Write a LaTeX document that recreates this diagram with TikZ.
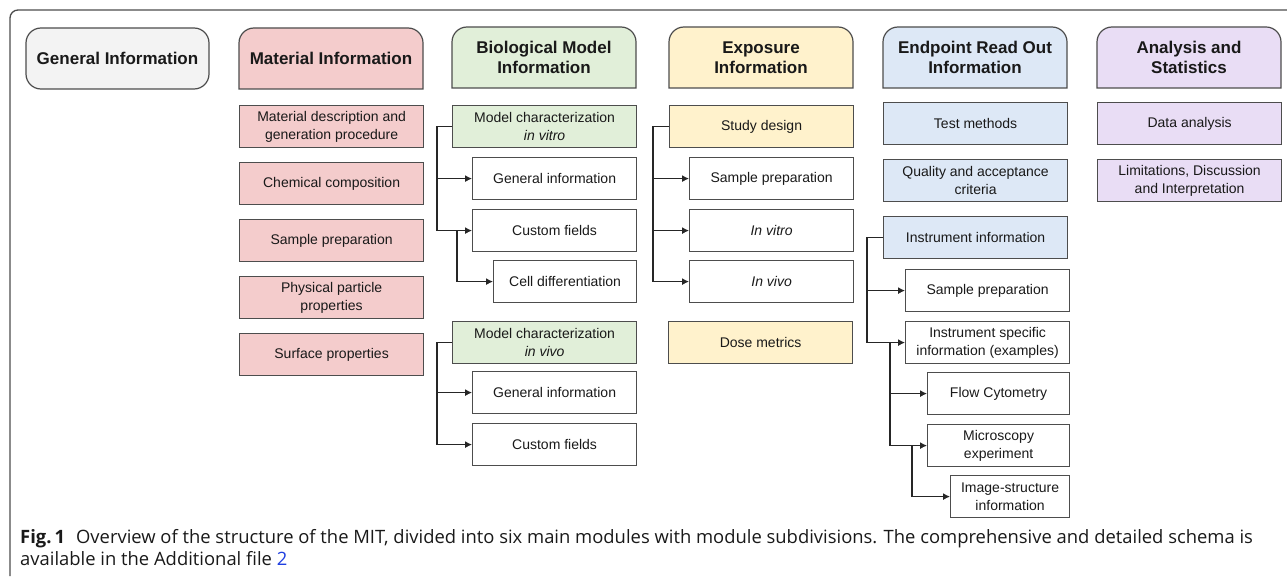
\documentclass[tikz,border=0pt]{standalone}
\usepackage{fontspec}
\setmainfont{Liberation Sans}
\newfontfamily\capfont{Open Sans}
\usepackage{xcolor}
\usetikzlibrary{arrows.meta, positioning, calc}

\definecolor{edge}{HTML}{4D4D4D}
\definecolor{genfill}{HTML}{F3F3F3}
\definecolor{matfill}{HTML}{F4CCCC}
\definecolor{biofill}{HTML}{E1EFD9}
\definecolor{expfill}{HTML}{FFF2CC}
\definecolor{endfill}{HTML}{DDE8F6}
\definecolor{anafill}{HTML}{E9DDF5}
\definecolor{linkblue}{HTML}{1F3FE0}

% header with rounded top corners: name, x, y, colour, text
\newcommand{\headbox}[5]{%
  \fill[#4, draw=edge, line width=1.2pt]
    (#2,#3+61) -- (#2,#3+15) arc[start angle=180, end angle=90, radius=15pt]
    -- (#2+169,#3) arc[start angle=90, end angle=0, radius=15pt]
    -- (#2+184,#3+61) -- cycle;
  \node[headtxt] (#1) at (#2+92,#3+30.5) {#5};
}

\begin{document}
\begin{tikzpicture}[x=1pt,y=-1pt,
  headtxt/.style={align=center, font=\fontsize{17}{20}\selectfont\bfseries, text=black!90},
  box/.style={draw=edge, line width=1.2pt, anchor=north west, minimum height=42pt,
    inner sep=0pt, align=center, font=\fontsize{14}{18}\selectfont, text=black!90},
  arr/.style={-{Latex[length=7pt, width=7pt]}, line width=1.1pt, black!85}]

\useasboundingbox (0,0) rectangle (1287,580);

% outer frame
\draw[edge, line width=1.3pt] (10,576) -- (10,18) arc[start angle=180, end angle=90, radius=8pt] -- (1287,10);

% ------------------------
% General information
% ------------------------
\node[box, anchor=center, fill=genfill, rounded corners=15pt, minimum width=183pt, minimum height=61pt,
  font=\fontsize{17}{20}\selectfont\bfseries] (gen) at (117.5,58.5) {General Information};

% ------------------------
% Material information
% ------------------------
\headbox{mat}{239}{28}{matfill}{Material Information}
\node[box, fill=matfill, minimum width=184pt] (mdesc) at (239,105) {Material description and\\generation procedure};
\node[box, fill=matfill, minimum width=184pt] (mchem) at (239,162) {Chemical composition};
\node[box, fill=matfill, minimum width=184pt] (mprep) at (239,219) {Sample preparation};
\node[box, fill=matfill, minimum width=184pt] (mphys) at (239,276) {Physical particle\\properties};
\node[box, fill=matfill, minimum width=184pt] (msurf) at (239,333) {Surface properties};

% ------------------------
% Biological model information
% ------------------------
\headbox{bio}{452}{27}{biofill}{Biological Model\\Information}
\node[box, fill=biofill, minimum width=184pt] (bvitro) at (452,105) {Model characterization\\\textit{in vitro}};
\node[box, minimum width=164pt] (bgen1) at (472,157) {General information};
\node[box, minimum width=164pt] (bcust1) at (472,209) {Custom fields};
\node[box, minimum width=143pt] (bcell) at (493,260) {Cell differentiation};
\node[box, fill=biofill, minimum width=184pt] (bvivo) at (452,321) {Model characterization\\\textit{in vivo}};
\node[box, minimum width=164pt] (bgen2) at (472,371) {General information};
\node[box, minimum width=164pt] (bcust2) at (472,423) {Custom fields};

\draw[arr] (bvitro.west) -- ++(-15,0) |- (bgen1.west);
\draw[arr] (bvitro.west) -- ++(-15,0) |- (bcust1.west);
\draw[arr] ([xshift=-15pt]bcust1.west) |- (bcell.west);
\draw[arr] (bvivo.west) -- ++(-15,0) |- (bgen2.west);
\draw[arr] (bvivo.west) -- ++(-15,0) |- (bcust2.west);

% ------------------------
% Exposure information
% ------------------------
\headbox{exp}{669}{27}{expfill}{Exposure\\Information}
\node[box, fill=expfill, minimum width=184pt] (estudy) at (669,105) {Study design};
\node[box, minimum width=164pt] (eprep) at (689,157) {Sample preparation};
\node[box, minimum width=164pt] (evitro) at (689,209) {\textit{In vitro}};
\node[box, minimum width=164pt] (evivo) at (689,260) {\textit{In vivo}};
\node[box, fill=expfill, minimum width=184pt] (edose) at (668,321) {Dose metrics};

\draw[arr] (estudy.west) -- ++(-16,0) |- (eprep.west);
\draw[arr] (estudy.west) -- ++(-16,0) |- (evitro.west);
\draw[arr] (estudy.west) -- ++(-16,0) |- (evivo.west);

% ------------------------
% Endpoint read out information
% ------------------------
\headbox{endp}{883}{27}{endfill}{Endpoint Read Out\\Information}
\node[box, fill=endfill, minimum width=184pt] (etest) at (883,102) {Test methods};
\node[box, fill=endfill, minimum width=184pt] (equal) at (883,159) {Quality and acceptance\\criteria};
\node[box, fill=endfill, minimum width=184pt] (einst) at (883,216) {Instrument information};
\node[box, minimum width=164pt] (iprep) at (905,269) {Sample preparation};
\node[box, minimum width=164pt] (ispec) at (905,321) {Instrument specific\\information (examples)};
\node[box, minimum width=142pt] (iflow) at (927,372) {Flow Cytometry};
\node[box, minimum width=142pt] (imicro) at (927,424) {Microscopy\\experiment};
\node[box, minimum width=119pt] (iimage) at (950,475) {Image-structure\\information};

\draw[arr] (einst.west) -- ++(-16,0) |- (iprep.west);
\draw[arr] (einst.west) -- ++(-16,0) |- (ispec.west);
\draw[arr] ([xshift=-15pt]ispec.west) |- (iflow.west);
\draw[arr] ([xshift=-15pt]ispec.west) |- (imicro.west);
\draw[arr] ([xshift=-15pt]imicro.west) |- (iimage.west);

% ------------------------
% Analysis and statistics
% ------------------------
\headbox{ana}{1097}{27}{anafill}{Analysis and\\Statistics}
\node[box, fill=anafill, minimum width=184pt] (adata) at (1097,102) {Data analysis};
\node[box, fill=anafill, minimum width=184pt] (alim) at (1097,159) {Limitations, Discussion\\and Interpretation};

% ------------------------
% Caption
% ------------------------
\node[anchor=base west, inner sep=0pt, font=\capfont\fontsize{18.4}{21}\selectfont, text=black!90] (cap1) at (20,543)
  {\textbf{Fig.\,1}\hspace{0.6em}Overview of the structure of the MIT, divided into six main modules with module subdivisions. The comprehensive and detailed schema is};
\node[anchor=base west, inner sep=0pt, font=\capfont\fontsize{18.4}{21}\selectfont, text=black!90] (cap2) at (20,565)
  {available in the Additional file \textcolor{linkblue}{2}};

\end{tikzpicture}
\end{document}
